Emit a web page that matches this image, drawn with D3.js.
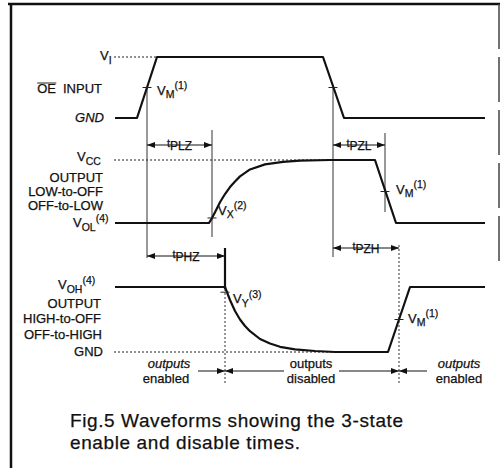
<!DOCTYPE html>
<html>
<head>
<meta charset="utf-8">
<script src="https://cdn.jsdelivr.net/npm/d3@7"></script>
<style>
  html, body { margin: 0; padding: 0; background: #fff; }
  svg { display: block; font-family: "Liberation Sans", Arial, Helvetica, sans-serif; }
  svg text { stroke: #111; stroke-width: 0.25; }
</style>
</head>
<body>
<div id="chart"></div>
<script>
// time in arbitrary units; level 0 = low rail, 1 = high rail
const timeSpan = [0, 37];

const oeInput = [[0, 0], [2.2, 0], [4.2, 1], [20.8, 1], [22.9, 0], [37, 0]];

const lowToOff = [[0, 0], [9.4, 0], [9.7, 0.08], [10, 0.17], [10.5, 0.33], [11, 0.46], [11.5, 0.57],
  [12, 0.66], [12.5, 0.74], [13.5, 0.85], [15, 0.93], [16.8, 0.97], [18.5, 0.99], [21.5, 1],
  [26, 1], [28.1, 0], [37, 0]];

const highToOff = [[0, 1], [11, 1], [11.5, 0.8], [12, 0.63], [12.5, 0.5], [13, 0.4], [13.5, 0.32],
  [14.5, 0.2], [15.5, 0.13], [16.5, 0.08], [18, 0.04], [20, 0.015], [22, 0], [27.3, 0],
  [29.5, 1], [37, 1]];

// reference crossing times
const vmRise = 3.2, vmFall = 21.8;
const vxTime = 9.7, vyTime = 11;
const vmLowTime = 27, vmHighTime = 28.4;

const timings = [
  { name: "PLZ", from: vmRise, to: vxTime },
  { name: "PZL", from: vmFall, to: vmLowTime },
  { name: "PHZ", from: vmRise, to: vyTime },
  { name: "PZH", from: vmFall, to: vmHighTime }
];

const lowRowTitles = ["OUTPUT", "LOW-to-OFF", "OFF-to-LOW"];
const highRowTitles = ["OUTPUT", "HIGH-to-OFF", "OFF-to-HIGH"];
const captionLines = ["Fig.5 Waveforms showing the 3-state", "enable and disable times."];

const width = 501, height = 468;
const ink = "#111";

const svg = d3.select("#chart").append("svg")
  .attr("width", width)
  .attr("height", height);

svg.append("defs").append("marker")
  .attr("id", "arrow")
  .attr("viewBox", "0 0 8 6")
  .attr("refX", 8).attr("refY", 3)
  .attr("markerWidth", 8).attr("markerHeight", 6)
  .attr("markerUnits", "userSpaceOnUse")
  .attr("orient", "auto-start-reverse")
  .append("path")
  .attr("d", "M0,0L8,3L0,6Z")
  .attr("fill", ink);

// frame
svg.append("line").attr("x1", 8).attr("x2", 500).attr("y1", 4).attr("y2", 4)
  .attr("stroke", ink).attr("stroke-width", 2.5);
svg.append("line").attr("x1", 11).attr("x2", 11).attr("y1", 3).attr("y2", 468)
  .attr("stroke", ink).attr("stroke-width", 2.5);
svg.append("line").attr("x1", 499).attr("x2", 499).attr("y1", 4).attr("y2", 265)
  .attr("stroke", "#444").attr("stroke-width", 1.5).attr("stroke-dasharray", "45,8");

const x = d3.scaleLinear().domain(timeSpan).range([115, 485]);
const yOE = d3.scaleLinear().domain([0, 1]).range([118, 57]);
const yLow = d3.scaleLinear().domain([0, 1]).range([223, 160]);
const yHigh = d3.scaleLinear().domain([0, 1]).range([352, 287]);

const g = svg.append("g");

function hline(x1, x2, y, dotted) {
  g.append("line").attr("x1", x1).attr("x2", x2).attr("y1", y).attr("y2", y)
    .attr("stroke", "#222").attr("stroke-width", 1)
    .attr("stroke-dasharray", dotted ? "2,2" : null);
}
function vline(xp, y1, y2, w, dotted) {
  g.append("line").attr("x1", xp).attr("x2", xp).attr("y1", y1).attr("y2", y2)
    .attr("stroke", w > 1 ? ink : "#333").attr("stroke-width", w)
    .attr("stroke-dasharray", dotted ? "2,2" : null);
}

// dotted rail references
hline(x(0) - 1, x(4.2), yOE(1), true);
hline(x(0) - 1, x(26), yLow(1), true);
hline(x(0) - 1, x(27.3), yHigh(0), true);

// measurement verticals
vline(x(vmRise), yOE(0.5), 258, 1);
vline(x(vxTime), 130, 237, 1);
vline(x(vyTime), 248, yHigh(1) + 2, 2.2);
vline(x(vyTime), yHigh(1) + 2, 384, 1, true);
vline(x(vmFall), yOE(0.5), 257, 1);
vline(x(vmLowTime), 133, 212, 1);
vline(x(vmHighTime), 245, 384, 1, true);

// waveforms
function wave(data, y) {
  g.append("path")
    .datum(data)
    .attr("fill", "none")
    .attr("stroke", ink)
    .attr("stroke-width", 2.2)
    .attr("stroke-linejoin", "round")
    .attr("d", d3.line().x(d => x(d[0])).y(d => y(d[1])));
}
wave(oeInput, yOE);
wave(lowToOff, yLow);
wave(highToOff, yHigh);

// crossing ticks
[[vmRise, yOE(0.5)], [vmFall, yOE(0.5)], [vxTime, yLow(0.08)], [vmLowTime, yLow(0.5)],
 [vyTime, yHigh(0.92)], [vmHighTime, yHigh(0.5)]].forEach(c => {
  hline(x(c[0]) - 4.5, x(c[0]) + 4.5, c[1], false);
});

// text helpers
function text(xp, y, str, opts) {
  opts = opts || {};
  return g.append("text")
    .attr("x", xp).attr("y", y)
    .attr("fill", ink)
    .attr("font-size", opts.size || 13)
    .attr("font-style", opts.italic ? "italic" : null)
    .attr("text-anchor", opts.anchor || "start")
    .text(str);
}
function vLabel(xp, y, base, sub, sup) {
  const t = g.append("text").attr("x", xp).attr("y", y)
    .attr("fill", ink).attr("font-size", 13);
  t.append("tspan").text(base);
  if (sub) t.append("tspan").attr("dy", 3.5).attr("font-size", 10.5).text(sub);
  if (sup) t.append("tspan").attr("dy", sub ? -9 : -5.5).attr("font-size", 10.5).text(sup);
  return t;
}

// row titles
const oe = text(56, 93, "OE", { anchor: "end" });
const oeBox = oe.node().getBBox();
hline(oeBox.x, oeBox.x + oeBox.width, 83, false);
text(102, 93, "INPUT", { anchor: "end" });
text(104, 122, "GND", { anchor: "end", italic: true });
vLabel(100, 60, "V", "I");

vLabel(77, 161, "V", "CC");
lowRowTitles.forEach((s, i) => text(103, [182, 196, 210][i], s, { anchor: "end" }));
vLabel(73, 227, "V", "OL", "(4)");

vLabel(58, 289, "V", "OH", "(4)");
highRowTitles.forEach((s, i) => text(i === 2 ? 24 : 101, [308, 323, 339][i], s, { anchor: i === 2 ? "start" : "end" }));
text(103, 356, "GND", { anchor: "end" });

// crossing labels
vLabel(x(vmRise) + 10, yOE(0.5) + 7, "V", "M", "(1)");
vLabel(x(vxTime) + 6, yLow(0.08) - 3, "V", "X", "(2)");
vLabel(x(vmLowTime) + 11, yLow(0.5) + 2, "V", "M", "(1)");
vLabel(x(vyTime) + 8, yHigh(0.92) + 11, "V", "Y", "(3)");
vLabel(x(vmHighTime) + 9, yHigh(0.5) + 3, "V", "M", "(1)");

// timing arrows
const timingY = { PLZ: 145, PZL: 145, PHZ: 256, PZH: 248 };
timings.forEach(tm => {
  const y = timingY[tm.name];
  const x1 = x(tm.from), x2 = x(tm.to);
  g.append("line").attr("x1", x1).attr("x2", x2).attr("y1", y).attr("y2", y)
    .attr("stroke", ink).attr("stroke-width", 1)
    .attr("marker-start", "url(#arrow)").attr("marker-end", "url(#arrow)");
  const t = g.append("text").attr("x", (x1 + x2) / 2).attr("y", y + 4)
    .attr("text-anchor", "middle").attr("fill", ink);
  t.append("tspan").attr("font-size", 11).attr("dy", -2).text("t");
  t.append("tspan").attr("font-size", 12).attr("dy", 3).text(tm.name);
  const bb = t.node().getBBox();
  g.insert("rect", "text")
    .attr("x", bb.x - 2).attr("y", y - 2).attr("width", bb.width + 4).attr("height", 4)
    .attr("fill", "#fff");
});

// outputs enabled / disabled
const yo = 371;
g.append("line").attr("x1", 198).attr("x2", x(vyTime)).attr("y1", yo).attr("y2", yo)
  .attr("stroke", ink).attr("marker-end", "url(#arrow)");
g.append("line").attr("x1", x(vyTime)).attr("x2", x(vmHighTime)).attr("y1", yo).attr("y2", yo)
  .attr("stroke", ink).attr("marker-start", "url(#arrow)").attr("marker-end", "url(#arrow)");
g.append("line").attr("x1", x(vmHighTime)).attr("x2", 427).attr("y1", yo).attr("y2", yo)
  .attr("stroke", ink).attr("marker-start", "url(#arrow)");
g.append("rect").attr("x", 284).attr("y", 358).attr("width", 55).attr("height", 28).attr("fill", "#fff");

text(169, 368, "outputs", { anchor: "middle", italic: true });
text(166, 383, "enabled", { anchor: "middle" });
text(311, 368, "outputs", { anchor: "middle" });
text(311, 383, "disabled", { anchor: "middle" });
text(459, 368, "outputs", { anchor: "middle", italic: true });
text(459, 383, "enabled", { anchor: "middle" });

// caption
const captionWidths = [333, 230];
captionLines.forEach((s, i) => {
  text(70, [427, 449][i], s, { size: 19 }).attr("textLength", captionWidths[i]);
});
</script>
</body>
</html>
